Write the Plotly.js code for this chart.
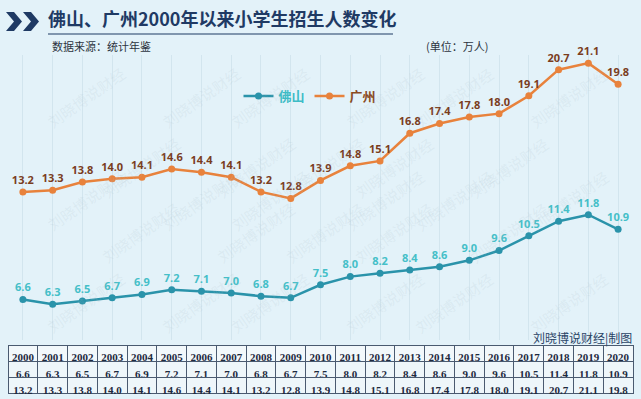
<!DOCTYPE html>
<html><head><meta charset="utf-8">
<script src="https://cdn.plot.ly/plotly-3.0.1.min.js"></script>
<style>html,body{margin:0;padding:0;background:#e3f2f9;}</style>
</head><body>
<div id="chart" style="width:641px;height:399px;"></div>
<script>
const years = [2000,2001,2002,2003,2004,2005,2006,2007,2008,2009,2010,2011,2012,2013,2014,2015,2016,2017,2018,2019,2020];
const foshan = [6.6,6.3,6.5,6.7,6.9,7.2,7.1,7.0,6.8,6.7,7.5,8.0,8.2,8.4,8.6,9.0,9.6,10.5,11.4,11.8,10.9];
const guangzhou = [13.2,13.3,13.8,14.0,14.1,14.6,14.4,14.1,13.2,12.8,13.9,14.8,15.1,16.8,17.4,17.8,18.0,19.1,20.7,21.1,19.8];
const seriesNames = ['佛山','广州'];

const W = 641, H = 399, ML = 8, MR = 8;
const px = x => (x - ML) / (W - ML - MR);
const py = y => (H - y) / H;

const navy = '#1f3a64';
const orange = '#e8823c';
const teal = '#2a93aa';

const traces = [
  {type:'scatter', mode:'lines+markers+text', x:years, y:foshan,
   name:'<span style="color:#3dbcc6">'+seriesNames[0]+'</span>',
   line:{color:teal,width:2.5}, marker:{color:teal,size:7},
   texttemplate:'%{y:.1f}', textposition:'top center',
   textfont:{family:'Open Sans, Noto Sans CJK SC',size:11,color:'#45bfc8',weight:'bold'},
   cliponaxis:false, xaxis:'x', yaxis:'y'},
  {type:'scatter', mode:'lines+markers+text', x:years, y:guangzhou,
   name:'<span style="color:#8a4a22">'+seriesNames[1]+'</span>',
   line:{color:orange,width:2.5}, marker:{color:orange,size:7},
   texttemplate:'%{y:.1f}', textposition:'top center',
   textfont:{family:'Open Sans, Noto Sans CJK SC',size:11,color:'#7a3d1e',weight:'bold'},
   cliponaxis:false, xaxis:'x', yaxis:'y'},
  {type:'table', domain:{x:[0,1], y:[0, py(345)]},
   columnwidth: years.map(()=>1),
   header:{values: years.map(String), height:16.3,
     fill:{color:'#f2f8fb'}, line:{color:'#4a5a70',width:1},
     font:{family:'Liberation Serif, DejaVu Serif',size:11,color:'#1e2a3e',weight:'bold'}, align:'center'},
   cells:{values: years.map((y,i)=>[foshan[i].toFixed(1), guangzhou[i].toFixed(1)]), height:16.3,
     fill:{color:'#eef6fa'}, line:{color:'#4a5a70',width:1},
     font:{family:'Liberation Serif, DejaVu Serif',size:11,color:'#1e2a3e',weight:'bold'}, align:'center'},
   showlegend:false}
];

const annotations = [
  {xref:'paper',yref:'paper',x:px(50),y:py(46),xanchor:'left',yanchor:'middle',showarrow:false,
   text:'数据来源：统计年鉴',font:{family:'Noto Sans CJK SC',size:11,color:'#2c3440'}},
  {xref:'paper',yref:'paper',x:px(490),y:py(46),xanchor:'right',yanchor:'middle',showarrow:false,
   text:'(单位：万人)',font:{family:'Noto Sans CJK SC',size:11,color:'#2c3440'}},
  {xref:'paper',yref:'paper',x:px(634),y:py(338),xanchor:'right',yanchor:'middle',showarrow:false,
   text:'刘晓博说财经|制图',font:{family:'Noto Sans CJK SC',size:12,color:'#2a4466'}}
];
// faint watermark tiles
for (let r=0;r<5;r++){
  for (let c=0;c<6;c++){
    const wx = 40 + c*115 + (r%2)*55;
    const wy = 60 + r*70;
    if (wx>640) continue;
    annotations.push({xref:'paper',yref:'paper',x:px(wx),y:py(wy),showarrow:false,textangle:-35,
      text:'刘晓博说财经',font:{family:'Noto Sans CJK SC',size:15,color:'rgba(170,188,200,0.16)'}});
  }
}

function chevron(x0){
  const t=12,b=31,m=21.5;
  const pts=[[x0,t],[x0+8,t],[x0+16,m],[x0+8,b],[x0,b],[x0+8,m]];
  return {type:'path',xref:'paper',yref:'paper',layer:'above',
    path:'M'+pts.map(p=>px(p[0])+','+py(p[1])).join(' L')+' Z',
    fillcolor:navy,line:{width:0}};
}
const shapes = [
  chevron(6), chevron(23),
  {type:'line',xref:'paper',yref:'paper',x0:px(48),x1:px(393),y0:py(34),y1:py(34),line:{color:navy,width:1.2}}
];

const layout = {
  width:W, height:H,
  margin:{l:ML,r:MR,t:0,b:0,pad:0},
  paper_bgcolor:'#e3f2f9', plot_bgcolor:'rgba(0,0,0,0)',
  title:{text:'佛山、广州2000年以来小学生招生人数变化', xref:'container', yref:'container',
    x:48/W, xanchor:'left', y:1-20/H, yanchor:'middle',
    font:{family:'Noto Sans CJK SC',size:18,color:navy,weight:'bold'}},
  xaxis:{range:[1999.5,2020.5], domain:[0,1], showgrid:true, gridcolor:'#d2e5ee', gridwidth:1,
    tickvals:years, showticklabels:false, zeroline:false, showline:false, ticks:''},
  yaxis:{range:[4.11,21.6], domain:[py(340), py(55)], showgrid:false, showticklabels:false,
    zeroline:false, showline:false, ticks:''},
  showlegend:true,
  legend:{orientation:'h', x:px(310), xanchor:'center', y:py(96), yanchor:'middle',
    bgcolor:'rgba(0,0,0,0)', font:{family:'Noto Sans CJK SC',size:13,weight:'bold'},
    itemwidth:30, traceorder:'normal'},
  annotations:annotations, shapes:shapes
};

Plotly.newPlot('chart', traces, layout, {displayModeBar:false, staticPlot:true});
</script>
</body></html>
